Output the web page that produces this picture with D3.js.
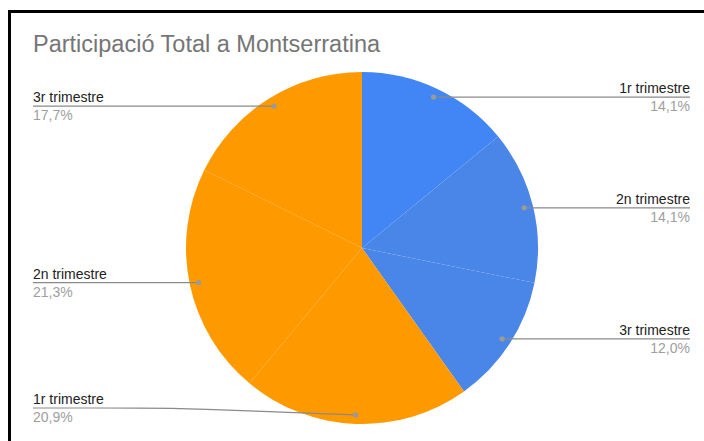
<!DOCTYPE html>
<html>
<head>
<meta charset="utf-8">
<script src="https://cdn.jsdelivr.net/npm/d3@7"></script>
<style>
  body { margin: 0; background: #fff; }
  svg { display: block; font-family: "Liberation Sans", Arial, sans-serif; }
  .title { font-size: 23.5px; fill: #757575; }
  .lbl { font-size: 14px; fill: #222; }
  .pct { font-size: 14px; fill: #9e9e9e; }
  .leader { fill: none; stroke: #8a8a8a; stroke-width: 1.2; }
</style>
</head>
<body>
<svg width="704" height="441"></svg>
<script>
  // slices, clockwise from 12 o'clock
  const labels = ['1r trimestre', '2n trimestre', '3r trimestre',
    '1r trimestre', '2n trimestre', '3r trimestre'];
  const values = [14.1, 14.1, 12.0, 20.9, 21.3, 17.7];
  const colors = ['#4285f4', '#4a86e8', '#4a86e8', '#ff9900', '#ff9900', '#ff9900'];
  const title = 'Participació Total a Montserratina';

  const svg = d3.select('svg');

  // frame (left + top edges)
  svg.append('path')
    .attr('d', 'M9.5,441 V11.5 H704')
    .attr('fill', 'none')
    .attr('stroke', '#000')
    .attr('stroke-width', 3);

  svg.append('text')
    .attr('class', 'title')
    .attr('x', 33)
    .attr('y', 52)
    .text(title);

  const cx = 362, cy = 248, radius = 176;
  const g = svg.append('g').attr('transform', 'translate(' + cx + ',' + cy + ')');

  const pie = d3.pie().sort(null);
  const arcs = pie(values);

  const arc = d3.arc().innerRadius(0).outerRadius(radius);
  const dotArc = d3.arc().innerRadius(167).outerRadius(167);

  g.selectAll('.slice')
    .data(arcs)
    .enter().append('path')
    .attr('class', 'slice')
    .attr('d', arc)
    .attr('fill', (d, i) => colors[i]);

  const fmt = (v) => d3.format('.1f')(v).replace('.', ',') + '%';
  const leftX = 33, rightX = 690, maxY = 408;

  arcs.forEach((d, i) => {
    const p = dotArc.centroid(d);
    const px = cx + p[0], py = cy + p[1];
    const mid = (d.startAngle + d.endAngle) / 2;
    const right = mid < Math.PI;
    const ly = Math.min(py, maxY);
    const lx = right ? rightX : leftX;

    let pathD;
    if (ly === py) {
      pathD = 'M' + lx + ',' + ly + ' L' + px + ',' + py;
    } else {
      const bend = right ? lx - 150 : lx + 150;
      pathD = d3.line().curve(d3.curveBasis)([[lx, ly], [bend - (right ? 0 : 30), ly], [bend, ly + 0.3], [px, py]]);
    }
    svg.append('path').attr('class', 'leader').attr('d', pathD);
    svg.append('circle')
      .attr('cx', px).attr('cy', py).attr('r', 2.6)
      .attr('fill', '#9a9a9a');

    svg.append('text')
      .attr('class', 'lbl')
      .attr('x', lx)
      .attr('y', ly - 4)
      .attr('text-anchor', right ? 'end' : 'start')
      .text(labels[i]);
    svg.append('text')
      .attr('class', 'pct')
      .attr('x', lx)
      .attr('y', ly + 14)
      .attr('text-anchor', right ? 'end' : 'start')
      .text(fmt(values[i]));
  });
</script>
</body>
</html>
